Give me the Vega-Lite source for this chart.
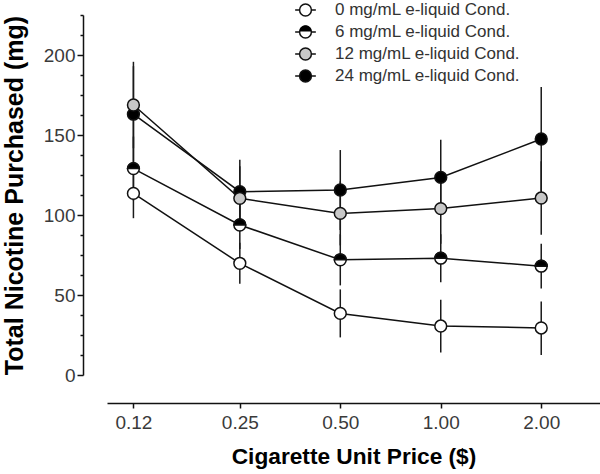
{
  "$schema": "https://vega.github.io/schema/vega-lite/v6.json",
  "autosize": {"type": "none"},
  "width": 493,
  "height": 360,
  "padding": {"left": 107, "top": 15, "right": 0, "bottom": 99},
  "background": "white",
  "config": {
    "view": {"stroke": null},
    "font": "Liberation Sans",
    "axis": {"grid": false, "domainColor": "#111", "tickColor": "#111", "domainWidth": 1.5, "tickWidth": 1.5, "labelColor": "#3a3a3a", "labelFontSize": 19, "labelFont": "Liberation Sans", "titleFont": "Liberation Sans", "titleFontWeight": "bold", "titleColor": "#000"}
  },
  "data": {
    "values": [
      {"price": 0.12, "cond": "0 mg/mL e-liquid Cond.", "mean": 113.5, "lo": 98, "hi": 129},
      {"price": 0.25, "cond": "0 mg/mL e-liquid Cond.", "mean": 69.8, "lo": 57, "hi": 82.6},
      {"price": 0.5, "cond": "0 mg/mL e-liquid Cond.", "mean": 38.5, "lo": 23.5, "hi": 53.5},
      {"price": 1, "cond": "0 mg/mL e-liquid Cond.", "mean": 30.6, "lo": 14, "hi": 47.1},
      {"price": 2, "cond": "0 mg/mL e-liquid Cond.", "mean": 29.4, "lo": 12.5, "hi": 45.9},
      {"price": 0.12, "cond": "6 mg/mL e-liquid Cond.", "mean": 129, "lo": 109, "hi": 149},
      {"price": 0.25, "cond": "6 mg/mL e-liquid Cond.", "mean": 93.75, "lo": 78.75, "hi": 108.75},
      {"price": 0.5, "cond": "6 mg/mL e-liquid Cond.", "mean": 72, "lo": 56, "hi": 88},
      {"price": 1, "cond": "6 mg/mL e-liquid Cond.", "mean": 73, "lo": 58, "hi": 88},
      {"price": 2, "cond": "6 mg/mL e-liquid Cond.", "mean": 68, "lo": 54, "hi": 82},
      {"price": 0.12, "cond": "24 mg/mL e-liquid Cond.", "mean": 163, "lo": 133, "hi": 193},
      {"price": 0.25, "cond": "24 mg/mL e-liquid Cond.", "mean": 114.6, "lo": 94.6, "hi": 134.6},
      {"price": 0.5, "cond": "24 mg/mL e-liquid Cond.", "mean": 115.6, "lo": 90.6, "hi": 140.6},
      {"price": 1, "cond": "24 mg/mL e-liquid Cond.", "mean": 123.5, "lo": 100, "hi": 147},
      {"price": 2, "cond": "24 mg/mL e-liquid Cond.", "mean": 147.5, "lo": 115, "hi": 180},
      {"price": 0.12, "cond": "12 mg/mL e-liquid Cond.", "mean": 168.75, "lo": 141.75, "hi": 195.75},
      {"price": 0.25, "cond": "12 mg/mL e-liquid Cond.", "mean": 110.4, "lo": 90.4, "hi": 130.4},
      {"price": 0.5, "cond": "12 mg/mL e-liquid Cond.", "mean": 101, "lo": 81, "hi": 121},
      {"price": 1, "cond": "12 mg/mL e-liquid Cond.", "mean": 104, "lo": 82, "hi": 126},
      {"price": 2, "cond": "12 mg/mL e-liquid Cond.", "mean": 110.6, "lo": 87.6, "hi": 133.6}
    ]
  },
  "encoding": {
    "x": {
      "field": "price", "type": "quantitative",
      "scale": {"type": "log", "base": 2, "domain": [0.1, 3], "nice": false},
      "axis": {"values": [0.12, 0.25, 0.5, 1, 2], "format": ".2f", "offset": 28, "tickSize": 5, "labelPadding": 5, "title": "Cigarette Unit Price ($)", "titleFontSize": 22.7, "titlePadding": 13, "labelFlush": false, "labelOverlap": false}
    }
  },
  "layer": [
    {
      "mark": {"type": "rule", "color": "#1a1a1a", "strokeWidth": 1.5},
      "encoding": {
        "y": {"field": "lo", "type": "quantitative", "scale": {"domain": [0, 225], "nice": false, "zero": true},
          "axis": {"values": [12.5, 25, 37.5, 62.5, 75, 87.5, 112.5, 125, 137.5, 162.5, 175, 187.5, 212.5, 225], "labels": false, "domain": false, "tickSize": 3, "offset": 24, "title": null, "orient": "left"}},
        "y2": {"field": "hi"}
      }
    },
    {
      "mark": {"type": "line", "color": "#111", "strokeWidth": 1.5},
      "encoding": {
        "y": {"field": "mean", "type": "quantitative",
          "axis": {"values": [0, 50, 100, 150, 200], "offset": 24, "tickSize": 6, "labelPadding": 2, "title": "Total Nicotine Purchased (mg)", "titleFontSize": 25, "titlePadding": 16, "orient": "left"}},
        "detail": {"field": "cond"},
        "order": {"field": "price"}
      }
    },
    {
      "mark": {"type": "point", "shape": "circle", "filled": true, "opacity": 1, "size": 140, "stroke": "#111", "strokeWidth": 1.5},
      "encoding": {
        "y": {"field": "mean", "type": "quantitative", "axis": null},
        "fill": {
          "field": "cond", "type": "nominal",
          "scale": {
            "domain": ["0 mg/mL e-liquid Cond.", "6 mg/mL e-liquid Cond.", "12 mg/mL e-liquid Cond.", "24 mg/mL e-liquid Cond."],
            "range": ["#ffffff", "#ffffff", "#c8c8c8", "#000000"]
          },
          "legend": {
            "orient": "none", "legendX": 190, "legendY": -13.5, "title": null,
            "symbolType": "M -1 0 A 1 1 0 1 1 1 0 A 1 1 0 1 1 -1 0 Z M -1.75 0 L -1 0 M 1 0 L 1.75 0",
            "symbolSize": 140, "symbolStrokeColor": "#111", "symbolStrokeWidth": 1.5, "symbolOpacity": 1,
            "labelFontSize": 17, "labelColor": "#333", "labelOffset": 21, "labelLimit": 0, "rowPadding": 3, "padding": 0
          }
        }
      }
    },
    {
      "transform": [{"filter": "datum.cond === '6 mg/mL e-liquid Cond.'"}],
      "mark": {"type": "point", "filled": true, "opacity": 1, "size": 140, "fill": "#000000", "stroke": "#111", "strokeWidth": 1.5},
      "encoding": {
        "y": {"field": "mean", "type": "quantitative", "axis": null},
        "shape": {
          "field": "cond", "type": "nominal",
          "scale": {"domain": ["6 mg/mL e-liquid Cond."], "range": ["M -1 0 A 1 1 0 0 1 1 0 Z"]},
          "legend": {
            "orient": "none", "legendX": 190, "legendY": 8, "title": null,
            "symbolSize": 140, "symbolFillColor": "#000000", "symbolStrokeColor": "#111", "symbolStrokeWidth": 1.5, "symbolOpacity": 1,
            "labelFontSize": 17, "labelOpacity": 0, "labelOffset": 21, "labelLimit": 0, "rowPadding": 3, "padding": 0
          }
        }
      }
    }
  ],
  "resolve": {"axis": {"y": "independent"}}
}
